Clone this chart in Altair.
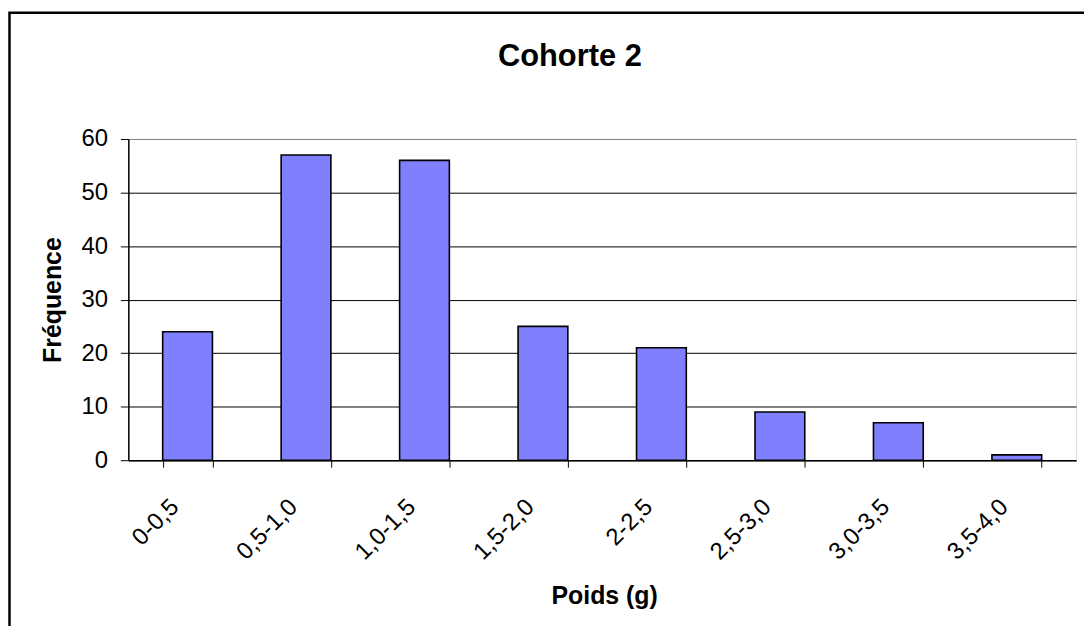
import altair as alt
import pandas as pd

categories = ["0-0,5", "0,5-1,0", "1,0-1,5", "1,5-2,0", "2-2,5", "2,5-3,0", "3,0-3,5", "3,5-4,0"]
frequencies = [24, 57, 56, 25, 21, 9, 7, 1]
y_ticks = [0, 10, 20, 30, 40, 50, 60]

df = pd.DataFrame({"classe": categories, "freq": frequencies})
frame_df = pd.DataFrame({"k": [0]})

FONT = "Liberation Sans"
W, H = 953, 323

bars = alt.Chart(df).mark_bar(color="#8080FF", stroke="black", strokeWidth=1.6).encode(
    x=alt.X(
        "classe:N",
        sort=categories,
        scale=alt.Scale(paddingInner=0.58, paddingOuter=0.29),
        axis=alt.Axis(
            title="Poids (g)",
            titleFont=FONT, titleFontSize=25, titleFontWeight="bold", titleColor="black",
            titleX=W / 2 + 2, titleY=143.6, titleBaseline="alphabetic", titleAlign="center",
            labelFont=FONT, labelFontSize=24, labelColor="black",
            labelAngle=-45, labelAlign="right", labelBaseline="middle",
            labelPadding=36, labelOffset=-13, labelOverlap=False,
            tickBand="extent", tickSize=7, tickColor="black", tickWidth=1,
            domainColor="black", domainWidth=1.5, grid=False,
        ),
    ),
    y=alt.Y(
        "freq:Q",
        scale=alt.Scale(domain=[0, 60], nice=False),
        axis=alt.Axis(
            title="Fréquence", values=y_ticks,
            titleFont=FONT, titleFontSize=25, titleFontWeight="bold", titleColor="black",
            titleX=-68, titleY=H / 2, titleBaseline="alphabetic", titleAlign="center", titleAngle=-90,
            labelFont=FONT, labelFontSize=24, labelColor="black", labelPadding=13,
            tickSize=8, tickColor="black", tickWidth=1,
            domainColor="black", domainWidth=1.5,
            grid=True, gridWidth=1,
            gridColor={"condition": {"test": "datum.value == 60", "value": "#808080"}, "value": "black"},
        ),
    ),
)

frame = alt.Chart(frame_df).mark_rect(fillOpacity=0, stroke="black", strokeWidth=2.5).encode(
    x=alt.value(-119.5), x2=alt.value(1100), y=alt.value(-127), y2=alt.value(600)
)

chart = alt.layer(frame, bars).properties(
    width=W, height=H,
    title=alt.TitleParams(
        "Cohorte 2", font=FONT, fontSize=31, fontWeight="bold", color="black",
        anchor="middle", frame="group", baseline="alphabetic", offset=-85.5, dx=-32.5,
    ),
    autosize=alt.AutoSizeParams(type="none"),
    padding={"left": 121, "top": 130, "right": 8, "bottom": 165},
).configure_view(
    fill="#C0C0C0", stroke="#808080", strokeWidth=1
).configure(background="white")

chart.save("out.html", embed_options={"renderer": "svg", "actions": False})
